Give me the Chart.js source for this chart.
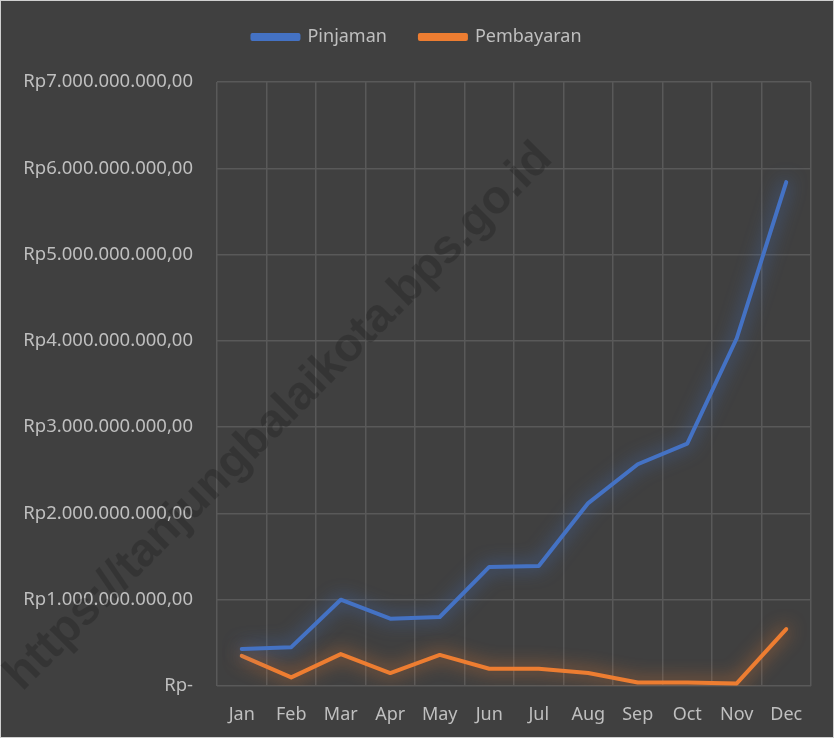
<!DOCTYPE html>
<html>
<head>
<meta charset="utf-8">
<script src="https://cdn.jsdelivr.net/npm/chart.js@4.4.1/dist/chart.umd.min.js"></script>
<style>
  html, body { margin: 0; padding: 0; background: #404040; }
  #wrap { width: 834px; height: 738px; }
</style>
</head>
<body>
<div id="wrap"><canvas id="grafik"></canvas></div>
<script>
// Data
const bulan = ['Jan', 'Feb', 'Mar', 'Apr', 'May', 'Jun', 'Jul', 'Aug', 'Sep', 'Oct', 'Nov', 'Dec'];
const pinjaman = [430e6, 450e6, 1000e6, 780e6, 800e6, 1380e6, 1390e6, 2120e6, 2570e6, 2810e6, 4030e6, 5840e6];
const pembayaran = [350e6, 100e6, 370e6, 150e6, 360e6, 200e6, 200e6, 150e6, 40e6, 40e6, 30e6, 660e6];
const labelSumbuY = ['Rp-', 'Rp1.000.000.000,00', 'Rp2.000.000.000,00', 'Rp3.000.000.000,00',
  'Rp4.000.000.000,00', 'Rp5.000.000.000,00', 'Rp6.000.000.000,00', 'Rp7.000.000.000,00'];

const warnaGlow = ['rgba(68,114,196,0.95)', 'rgba(237,125,49,0.95)'];

// latar, bingkai dan watermark
const latar = {
  id: 'latar',
  beforeDraw(chart) {
    const ctx = chart.ctx;
    ctx.save();
    ctx.fillStyle = '#404040';
    ctx.fillRect(0, 0, chart.width, chart.height);
    ctx.restore();
  },
  afterDraw(chart) {
    const ctx = chart.ctx;
    ctx.save();
    ctx.strokeStyle = '#d0d0d0';
    ctx.lineWidth = 1;
    ctx.strokeRect(0.5, 0.5, chart.width - 1, chart.height - 1);
    ctx.translate(279, 417);
    ctx.rotate(-Math.PI / 4);
    ctx.font = 'bold 47px "Liberation Sans", Arial, sans-serif';
    ctx.fillStyle = 'rgba(25,25,25,0.3)';
    ctx.textAlign = 'center';
    ctx.textBaseline = 'middle';
    ctx.fillText('https://tanjungbalaikota.bps.go.id', 0, 0);
    ctx.restore();
  }
};

// tambah jarak di bawah legenda
const jarakLegenda = {
  id: 'jarakLegenda',
  beforeLayout(chart) {
    const lg = chart.legend;
    if (lg && !lg._dipatch) {
      const asli = lg.fit;
      lg.fit = function () { asli.call(this); this.height += 26; };
      lg._dipatch = true;
    }
  }
};

// efek glow pada garis
const glow = {
  id: 'glow',
  beforeDatasetDraw(chart, args) {
    const ctx = chart.ctx;
    ctx.save();
    ctx.shadowColor = warnaGlow[args.index];
    ctx.shadowBlur = 18;
  },
  afterDatasetDraw(chart) {
    chart.ctx.restore();
  }
};

const warnaTeks = '#bfbfbf';
const huruf = '"Noto Sans", "Open Sans", sans-serif';

new Chart(document.getElementById('grafik'), {
  type: 'line',
  data: {
    labels: bulan,
    datasets: [
      { label: 'Pinjaman', data: pinjaman, borderColor: '#4472c4', backgroundColor: '#4472c4',
        borderWidth: 4, pointRadius: 0, tension: 0, borderCapStyle: 'round', borderJoinStyle: 'round' },
      { label: 'Pembayaran', data: pembayaran, borderColor: '#ed7d31', backgroundColor: '#ed7d31',
        borderWidth: 4, pointRadius: 0, tension: 0, borderCapStyle: 'round', borderJoinStyle: 'round' }
    ]
  },
  options: {
    responsive: true,
    maintainAspectRatio: false,
    animation: false,
    layout: { padding: { left: 0, right: 0, top: -5, bottom: 0 } },
    plugins: {
      legend: {
        position: 'top',
        labels: { color: warnaTeks, font: { family: huruf, size: 18 }, boxWidth: 46, boxHeight: 4, padding: 33 }
      },
      tooltip: { enabled: false }
    },
    scales: {
      x: {
        offset: true,
        grid: { offset: true, color: '#595959', lineWidth: 1.5, drawTicks: false },
        border: { display: false },
        ticks: { color: warnaTeks, font: { family: huruf, size: 18 }, padding: 18, maxRotation: 0 },
        afterFit(scale) { scale.height = 52; }
      },
      y: {
        min: 0,
        max: 7e9,
        grid: { color: '#595959', lineWidth: 1.5, drawTicks: false },
        border: { display: false },
        ticks: {
          stepSize: 1e9,
          color: warnaTeks,
          font: { family: huruf, size: 18.5 },
          padding: 24,
          callback: (v) => labelSumbuY[Math.round(v / 1e9)]
        },
        afterFit(scale) { scale.width = 217; }
      },
      kanan: {
        position: 'right',
        display: true,
        grid: { display: false },
        border: { display: false },
        ticks: { display: false },
        afterFit(scale) { scale.width = 23; }
      }
    }
  },
  plugins: [latar, jarakLegenda, glow]
});
</script>
</body>
</html>
